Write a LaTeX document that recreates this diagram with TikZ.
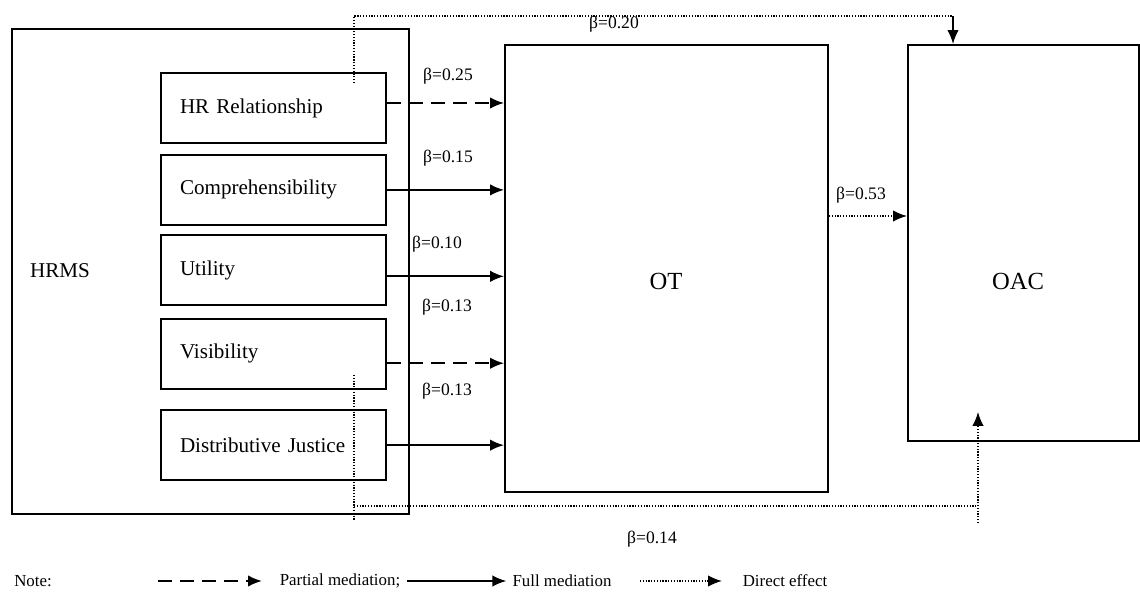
\documentclass[tikz,border=0pt]{standalone}
\usepackage{fontspec}
\setmainfont{Liberation Serif}
\usetikzlibrary{positioning,arrows.meta}

\begin{document}
\begin{tikzpicture}[x=0.02cm, y=-0.02cm, >={Latex[length=2.8mm,width=2.3mm]},
                    every node/.style={font=\fontsize{12}{14}\selectfont},
                    box/.style={draw, line width=1.1pt, inner sep=0pt},
                    factor/.style={box, minimum width=4.5cm, minimum height=1.4cm,
                                   text width=3.74cm, align=left, inner xsep=0.38cm},
                    beta/.style={font=\fontsize{10}{12}\selectfont, inner sep=1pt},
                    legendtext/.style={font=\fontsize{9.6}{11}\selectfont},
                    fullmed/.style={->, line width=1.1pt},
                    partialmed/.style={->, line width=1.1pt, dash pattern=on 2.8mm off 1.6mm},
                    directeff/.style={line width=1pt, dash pattern=on 0.7pt off 0.9pt}]
\useasboundingbox (0,0) rectangle (1140,597);

% HRMS and its five dimensions
\node[box, minimum width=7.94cm, minimum height=9.7cm] (hrms) at (210.5,271.5) {};
\node (hrmstext) at (60,271) {HRMS};
\node[factor] (hrrel) at (273.5,108) {HR Relationship};
\node[factor, below=0.2cm of hrrel] (compr) {Comprehensibility};
\node[factor, below=0.17cm of compr] (utility) {Utility};
\node[factor, below=0.23cm of utility] (visib) {Visibility};
\node[factor, below=0.39cm of visib] (distjust) {Distributive Justice};

% mediator and outcome
\node[box, minimum width=6.46cm, minimum height=8.94cm] (ot) at (666.5,268.5) {};
\node[font=\fontsize{14}{16}\selectfont] (ottext) at (666,281) {OT};
\node[box, minimum width=4.62cm, minimum height=7.92cm] (oac) at (1023.5,243) {};
\node[font=\fontsize{14}{16}\selectfont] (oactext) at (1018,281) {OAC};

% paths to OT
\draw[partialmed] ([yshift=0.1cm]hrrel.east) -- ([yshift=0.1cm]hrrel.east -| ot.west);
\draw[fullmed] (compr.east) -- (compr.east -| ot.west);
\draw[fullmed] ([yshift=-0.12cm]utility.east) -- ([yshift=-0.12cm]utility.east -| ot.west);
\draw[partialmed] ([yshift=-0.19cm]visib.east) -- ([yshift=-0.19cm]visib.east -| ot.west);
\draw[fullmed] (distjust.east) -- (distjust.east -| ot.west);
\draw[directeff, ->] ([yshift=1.05cm]ot.east) -- ([yshift=1.05cm]ot.east -| oac.west);

\node[beta] (b1) at (448,76) {β=0.25};
\node[beta] (b2) at (448,158) {β=0.15};
\node[beta] (b3) at (437,244) {β=0.10};
\node[beta] (b4) at (447,307) {β=0.13};
\node[beta] (b5) at (447,391) {β=0.13};
\node[beta] (b6) at (861,195) {β=0.53};

% direct effects on OAC
\coordinate (topstart) at (354,83);
\coordinate (topbend) at (953,16);
\draw[directeff] (topstart) -- (topstart |- topbend) -- (topbend);
\draw[->, line width=1.1pt] (topbend) -- (topbend |- oac.north);
\node[beta] (b7) at (614,24) {β=0.20};

\coordinate (botstart) at (354,375);
\coordinate (botbend) at (978,506);
\coordinate (botend) at (978,523);
\draw[directeff] (botstart) -- ++(0,145);
\draw[directeff] (botstart |- botbend) -- (botbend);
\draw[directeff, ->] (botend) -- ([yshift=0.6cm]botend |- oac.south);
\node[beta] (b8) at (652,539) {β=0.14};

% legend
\node[legendtext] (note) at (33,581) {Note:};
\node[legendtext] (partialtext) at (340,581) {Partial mediation;};
\node[legendtext] (fulltext) at (562,581) {Full mediation};
\node[legendtext] (directtext) at (785,581) {Direct effect};
\coordinate (legdash) at (158,581);
\coordinate (legfull) at (407,581);
\coordinate (legdot) at (640,581);
\draw[partialmed] (legdash) -- ++(104,0);
\draw[fullmed] (legfull) -- (fulltext.west);
\draw[directeff, ->] (legdot) -- ++(82,0);
\end{tikzpicture}
\end{document}
